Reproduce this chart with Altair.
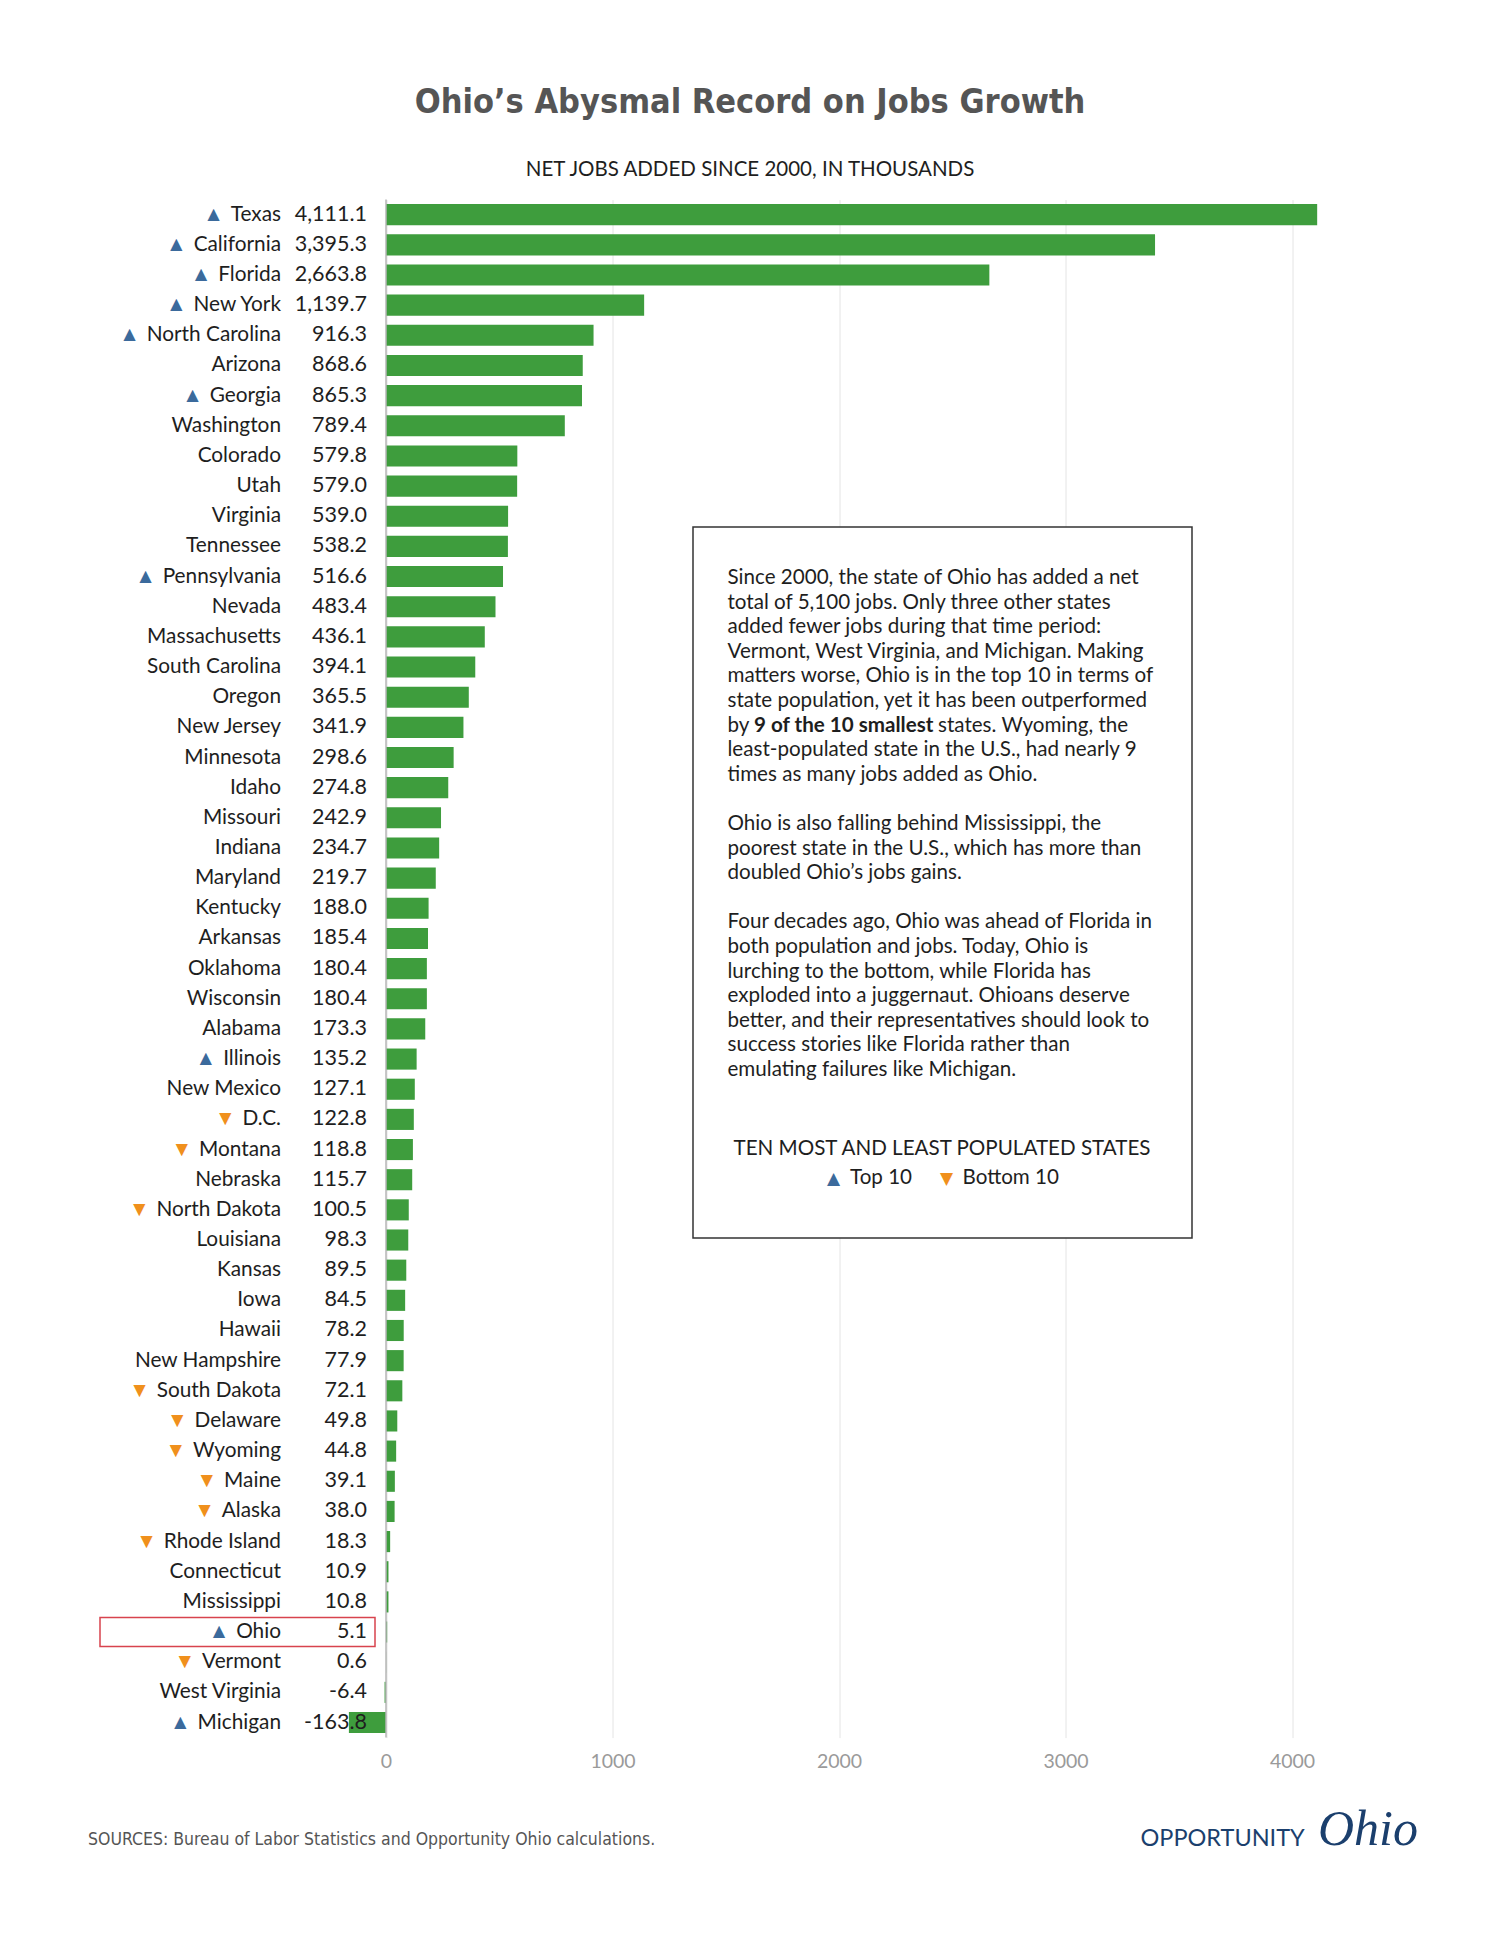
import altair as alt
import pandas as pd

# ---------------- data ----------------
states = ["Texas", "California", "Florida", "New York", "North Carolina", "Arizona",
          "Georgia", "Washington", "Colorado", "Utah", "Virginia", "Tennessee",
          "Pennsylvania", "Nevada", "Massachusetts", "South Carolina", "Oregon",
          "New Jersey", "Minnesota", "Idaho", "Missouri", "Indiana", "Maryland",
          "Kentucky", "Arkansas", "Oklahoma", "Wisconsin", "Alabama", "Illinois",
          "New Mexico", "D.C.", "Montana", "Nebraska", "North Dakota", "Louisiana",
          "Kansas", "Iowa", "Hawaii", "New Hampshire", "South Dakota", "Delaware",
          "Wyoming", "Maine", "Alaska", "Rhode Island", "Connecticut", "Mississippi",
          "Ohio", "Vermont", "West Virginia", "Michigan"]
jobs = [4111.1, 3395.3, 2663.8, 1139.7, 916.3, 868.6, 865.3, 789.4, 579.8, 579.0,
        539.0, 538.2, 516.6, 483.4, 436.1, 394.1, 365.5, 341.9, 298.6, 274.8,
        242.9, 234.7, 219.7, 188.0, 185.4, 180.4, 180.4, 173.3, 135.2, 127.1,
        122.8, 118.8, 115.7, 100.5, 98.3, 89.5, 84.5, 78.2, 77.9, 72.1,
        49.8, 44.8, 39.1, 38.0, 18.3, 10.9, 10.8, 5.1, 0.6, -6.4, -163.8]
top10 = ["Texas", "California", "Florida", "New York", "North Carolina", "Georgia",
         "Pennsylvania", "Illinois", "Ohio", "Michigan"]
bottom10 = ["D.C.", "Montana", "North Dakota", "South Dakota", "Delaware", "Wyoming",
            "Maine", "Alaska", "Rhode Island", "Vermont"]
x_ticks = [0, 1000, 2000, 3000, 4000]

title = "Ohio\u2019s Abysmal Record on Jobs Growth"
subtitle = "NET JOBS ADDED SINCE 2000, IN THOUSANDS"
source = "SOURCES: Bureau of Labor Statistics and Opportunity Ohio calculations."
para1 = [
    "Since 2000, the state of Ohio has added a net",
    "total of 5,100 jobs. Only three other states",
    "added fewer jobs during that time period:",
    "Vermont, West Virginia, and Michigan. Making",
    "matters worse, Ohio is in the top 10 in terms of",
    "state population, yet it has been outperformed",
    "by",
    "least-populated state in the U.S., had nearly 9",
    "times as many jobs added as Ohio.",
]
bold_part = "9 of the 10 smallest"
after_bold = "states. Wyoming, the"
para2 = [
    "Ohio is also falling behind Mississippi, the",
    "poorest state in the U.S., which has more than",
    "doubled Ohio\u2019s jobs gains.",
]
para3 = [
    "Four decades ago, Ohio was ahead of Florida in",
    "both population and jobs. Today, Ohio is",
    "lurching to the bottom, while Florida has",
    "exploded into a juggernaut. Ohioans deserve",
    "better, and their representatives should look to",
    "success stories like Florida rather than",
    "emulating failures like Michigan.",
]
legend_title = "TEN MOST AND LEAST POPULATED STATES"

# ---------------- table ----------------
def marker(s):
    if s in top10:
        return "top"
    if s in bottom10:
        return "bottom"
    return "none"

df = pd.DataFrame({
    "state": states,
    "jobs": jobs,
    "label": [f"{v:,.1f}" for v in jobs],
    "pop": [marker(s) for s in states],
})
df["marked"] = df.apply(
    lambda r: ("\u25B2" if r["pop"] == "top" else "\u25BC") + "\u2004" + r["state"]
    if r["pop"] != "none" else "", axis=1)

one = pd.DataFrame({"k": [0]})

# ---------------- layout helpers ----------------
W, H = 1000, 1538
X0, Y0 = 347.5, 199.6          # page position of plot area
LH = 24.6                      # paragraph line height


def rx(px):
    return px - X0


def ry(py):
    return py - Y0


FONT = "Lato"
NARROW = "DejaVu Sans Condensed, DejaVu Sans, sans-serif"
BLUE = "#3b6a9c"
ORANGE = "#f0901c"
GREEN = "#3e9d3d"
DARK = "#1e1e1e"
BODY = 20.6
LBL = 20.8

yenc = alt.Y("state:N", sort=states, axis=None,
             scale=alt.Scale(paddingInner=0.3, paddingOuter=0.15))

base = alt.Chart(df)

bars = base.mark_bar(color=GREEN).encode(
    x=alt.X("jobs:Q",
            scale=alt.Scale(domain=[-170, 4245], nice=False, zero=False),
            axis=alt.Axis(values=x_ticks, title=None, grid=True, gridColor="#e4e4e4",
                          domain=False, ticks=False, labelPadding=15,
                          labelFont=FONT, labelFontSize=19.5, labelColor="#9a9a9a",
                          format="d")),
    y=yenc,
)

zero_rule = alt.Chart(one).mark_rule(color="#b5b5b5", strokeWidth=1.5).encode(
    x=alt.datum(0))

box = alt.Chart(one).mark_rect(fill="white", stroke="#333333", strokeWidth=1.5).encode(
    x=alt.value(rx(693)), x2=alt.value(rx(1192)),
    y=alt.value(ry(527)), y2=alt.value(ry(1238)))


def paragraph(lines, first_y):
    return alt.Chart(one).mark_text(
        font=FONT, fontSize=BODY, color=DARK, align="left", baseline="middle",
        lineBreak="\n", lineHeight=LH).encode(
        x=alt.value(rx(727.5)), y=alt.value(ry(first_y)),
        text=alt.value("\n".join(lines)))


P1 = 578
p1 = paragraph(para1, P1)
p2 = paragraph(para2, P1 + 10 * LH)
p3 = paragraph(para3, P1 + 14 * LH)

line7_y = ry(P1) + 6 * LH
bold_txt = alt.Chart(one).mark_text(
    font=FONT, fontSize=BODY, fontWeight="bold", color=DARK, align="left",
    baseline="middle").encode(
    x=alt.value(rx(754)), y=alt.value(line7_y), text=alt.value(bold_part))
after_txt = alt.Chart(one).mark_text(
    font=FONT, fontSize=BODY, color=DARK, align="left", baseline="middle").encode(
    x=alt.value(rx(938)), y=alt.value(line7_y), text=alt.value(after_bold))

leg_title = alt.Chart(one).mark_text(
    font=FONT, fontSize=BODY, color=DARK, align="center", baseline="middle").encode(
    x=alt.value(rx(942)), y=alt.value(ry(1148.5)), text=alt.value(legend_title))
leg_tri1 = alt.Chart(one).mark_text(
    font="DejaVu Sans", fontSize=17, color=BLUE, align="left", baseline="middle").encode(
    x=alt.value(rx(827)), y=alt.value(ry(1179)), text=alt.value("\u25B2"))
leg_t1 = alt.Chart(one).mark_text(
    font=FONT, fontSize=BODY, color=DARK, align="left", baseline="middle").encode(
    x=alt.value(rx(850)), y=alt.value(ry(1178)), text=alt.value("Top 10"))
leg_tri2 = alt.Chart(one).mark_text(
    font="DejaVu Sans", fontSize=17, color=ORANGE, align="left", baseline="middle").encode(
    x=alt.value(rx(940)), y=alt.value(ry(1179)), text=alt.value("\u25BC"))
leg_t2 = alt.Chart(one).mark_text(
    font=FONT, fontSize=BODY, color=DARK, align="left", baseline="middle").encode(
    x=alt.value(rx(962.5)), y=alt.value(ry(1178)), text=alt.value("Bottom 10"))

# colored markers: drawn with the name, the name part is then masked in white
# and overprinted in dark
markers = base.transform_filter(alt.datum.pop != "none").mark_text(
    font=FONT, fontSize=LBL, align="right", baseline="middle").encode(
    x=alt.value(rx(281)), y=yenc, text="marked:N",
    color=alt.Color("pop:N", scale=alt.Scale(domain=["top", "bottom"],
                                             range=[BLUE, ORANGE]), legend=None))
mask = base.transform_filter(alt.datum.pop != "none").mark_text(
    font=FONT, fontSize=LBL, align="right", baseline="middle",
    color="white", stroke="white", strokeWidth=2.5).encode(
    x=alt.value(rx(281)), y=yenc, text="state:N")
names = base.mark_text(font=FONT, fontSize=LBL, align="right", baseline="middle",
                       color=DARK).encode(
    x=alt.value(rx(281)), y=yenc, text="state:N")
values = base.mark_text(font=FONT, fontSize=21.5, align="right", baseline="middle",
                        color=DARK).encode(
    x=alt.value(rx(367)), y=yenc, text="label:N")

ohio_box = base.transform_filter(alt.datum.state == "Ohio").mark_bar(
    height=29, fillOpacity=0, stroke="#d8434e", strokeWidth=1.5).encode(
    x=alt.value(rx(100)), x2=alt.value(rx(375)), y=yenc)

title_txt = alt.Chart(one).mark_text(
    font=NARROW, fontSize=34, fontWeight="bold", color="#555555", align="center",
    baseline="middle").encode(
    x=alt.value(rx(750)), y=alt.value(ry(103)), text=alt.value(title))
sub_txt = alt.Chart(one).mark_text(
    font=FONT, fontSize=20.5, color=DARK, align="center", baseline="middle").encode(
    x=alt.value(rx(750)), y=alt.value(ry(170)), text=alt.value(subtitle))
src_txt = alt.Chart(one).mark_text(
    font=NARROW, fontSize=17.5, color="#555555", align="left", baseline="middle").encode(
    x=alt.value(rx(88)), y=alt.value(ry(1840)), text=alt.value(source))
logo1 = alt.Chart(one).mark_text(
    font=FONT, fontSize=23.5, color="#1b3f6d", align="left", baseline="middle").encode(
    x=alt.value(rx(1140.5)), y=alt.value(ry(1839)), text=alt.value("OPPORTUNITY"))
logo2 = alt.Chart(one).mark_text(
    font="Liberation Serif", fontSize=50, fontStyle="italic", color="#1b3f6d",
    align="left", baseline="middle").encode(
    x=alt.value(rx(1318)), y=alt.value(ry(1830)), text=alt.value("Ohio"))

chart = alt.layer(
    bars, zero_rule, box, p1, p2, p3, bold_txt, after_txt,
    leg_title, leg_tri1, leg_t1, leg_tri2, leg_t2,
    markers, mask, names, values, ohio_box,
    title_txt, sub_txt, src_txt, logo1, logo2,
).properties(
    width=W, height=H,
    autosize=alt.AutoSizeParams(type="none"),
    padding={"left": X0 - 8, "top": Y0 - 8,
             "right": 1484 - (X0 - 8) - W, "bottom": 1925 - (Y0 - 8) - H},
    background="white",
).configure_view(stroke=None)

chart.save("out.html", embed_options={"renderer": "svg", "actions": False})
